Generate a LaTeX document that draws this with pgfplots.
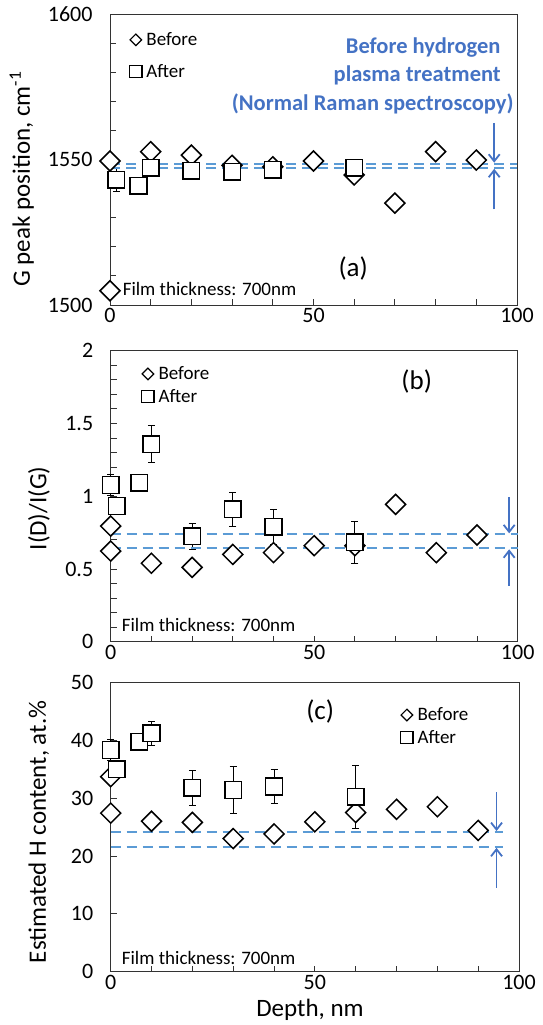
\documentclass[border=0pt]{standalone}
\usepackage{pgfplots}
\pgfplotsset{compat=1.18}
\usepackage{pgfplotstable}
\usepackage{fontspec}
\setmainfont{Carlito}
\usetikzlibrary{arrows.meta}
\definecolor{mblue}{HTML}{4472C4}
\definecolor{dblue}{HTML}{5B9BD5}
\newcommand{\tickfont}{\fontsize{22}{26}\selectfont}
\newcommand{\labfont}{\fontsize{25}{30}\selectfont}
\newcommand{\legfont}{\fontsize{19}{23}\selectfont}
\newcommand{\smfont}{\fontsize{19}{23}\selectfont}
\newcommand{\panfont}{\fontsize{27}{32}\selectfont}
\newcommand{\bluefont}{\fontsize{22.5}{27}\selectfont\bfseries}

% ---------- data ----------
\pgfplotstableread{
x y
0 1549.5
0 1504.9
10 1552.7
20 1551.5
30 1548.0
40 1547.5
50 1549.5
60 1544.7
70 1535.0
80 1552.7
90 1549.8
}\befA
\pgfplotstableread{
x y e
1.5 1543.0 4.0
7 1541.0 0
10 1547.2 0
20 1546.2 0
30 1545.8 2.9
40 1546.5 2.9
60 1547.2 0
}\aftA
\pgfplotstableread{
x y
0 0.795
0 0.623
10 0.539
20 0.511
30 0.600
40 0.612
50 0.660
60 0.660
70 0.944
80 0.612
90 0.733
}\befB
\pgfplotstableread{
x y e
0 1.077 0.07
1.5 0.933 0
7 1.093 0
10 1.357 0.127
20 0.726 0.09
30 0.910 0.118
40 0.790 0.12
60 0.683 0.146
}\aftB
\pgfplotstableread{
x y
0 33.7
0 27.4
10 26.0
20 25.8
30 23.0
40 23.8
50 25.9
60 27.5
70 28.06
80 28.5
90 24.4
}\befC
\pgfplotstableread{
x y e
0 38.3 1.8
1.5 35.0 0
7 39.7 0
10 41.2 2.1
20 31.8 3.0
30 31.4 4.0
40 32.0 3.0
60 30.2 5.5
}\aftC

\pgfplotsset{
  mystyle/.style={
    scale only axis, clip=false,
    xmin=0, xmax=100, xtick={0,50,100}, minor x tick num=4,
    tick align=inside, tick pos=left,
    major tick length=6pt, minor tick length=6pt,
    axis line style={black!80, line width=0.9pt},
    tick style={black!80, line width=0.9pt},
    ticklabel style={font=\tickfont, text=black},
    /pgf/number format/assume math mode=true,
    /pgf/number format/1000 sep={},
    yticklabel style={xshift=-14pt},
    label style={font=\labfont},
    legend style={draw=none, fill=none, font=\legfont, anchor=north west, inner sep=0pt, column sep=3pt, nodes={inner sep=1.5pt}},
    legend cell align=left,
  },
  bef/.style={only marks, mark=square*, mark size=7.07pt,
    mark options={rotate=45, fill=white, draw=black, line width=1.5pt},
    legend image code/.code={\draw[##1, mark size=4.1pt, mark options={rotate=45, fill=white, draw=black, line width=1.2pt}] plot coordinates {(0pt,0pt)};}},
  err/.style={only marks, mark=none, forget plot,
    error bars/y dir=both, error bars/y explicit,
    error bars/error bar style={line width=0.9pt, black},
    error bars/error mark options={rotate=90, mark size=3.5pt, line width=0.9pt, black}},
  aft/.style={only marks, mark=square*, mark size=8.3pt,
    mark options={fill=white, draw=black, line width=1.5pt},
    legend image code/.code={\draw[##1, mark size=6.1pt, mark options={fill=white, draw=black, line width=1.2pt}] plot coordinates {(0pt,0pt)};}},
  dl/.style={dblue, line width=2pt, dash pattern=on 10pt off 6pt, forget plot},
  ar/.style={mblue, line width=1.8pt, -{Straight Barb[length=7pt, width=11pt]}, forget plot},
}

\begin{document}
\begin{tikzpicture}
\useasboundingbox (0,0) rectangle (543pt,-1025pt);

% ---------------- (a) ----------------
\begin{axis}[mystyle,
  at={(110pt,-14pt)}, anchor=north west,
  width=407pt, height=291pt,
  ymin=1500, ymax=1600, ytick={1500,1550,1600}, minor y tick num=4,
  ylabel={G peak position, cm\textsuperscript{-1}},
  ylabel style={at={(axis description cs:-0.217,0.433)}, anchor=center},
  legend style={at={(axis description cs:0.048,0.942)}, row sep=14pt},
]
\addplot[bef] table[x=x,y=y] {\befA};
\addlegendentry{Before}
\addplot[err] table[x=x,y=y,y error=e] {\aftA};
\addplot[aft] table[x=x,y=y] {\aftA};
\addlegendentry{After}
\addplot[dl] coordinates {(0,1548.5) (100,1548.5)};
\addplot[dl] coordinates {(0,1547.2) (100,1547.2)};
\addplot[ar] coordinates {(94.4,1562.6) (94.4,1548.9)};
\addplot[ar] coordinates {(94.4,1532.9) (94.4,1546.8)};
\node[anchor=base east, font=\bluefont, text=mblue, inner sep=0pt] at (axis cs:96.0,1586.3) {Before hydrogen};
\node[anchor=base east, font=\bluefont, text=mblue, inner sep=0pt] at (axis cs:96.05,1576.7) {plasma treatment};
\node[anchor=base east, font=\bluefont, text=mblue, inner sep=0pt] at (axis cs:99.2,1567.0) {(Normal Raman spectroscopy)};
\node[font=\panfont] at (axis cs:59.75,1512.7) {(a)};
\node[anchor=base west, font=\smfont, inner sep=0pt] at (axis cs:3.1,1503.4) {Film thickness: 700nm};
\end{axis}

% ---------------- (b) ----------------
\begin{axis}[mystyle,
  at={(110.7pt,-350.7pt)}, anchor=north west,
  width=407pt, height=291pt,
  ymin=0, ymax=2, ytick={0,0.5,1,1.5,2}, minor y tick num=4,
  ylabel={I(D)/I(G)},
  ylabel style={at={(axis description cs:-0.176,0.458)}, anchor=center},
  legend style={at={(axis description cs:0.076,0.951)}, row sep=5pt},
]
\addplot[bef] table[x=x,y=y] {\befB};
\addlegendentry{Before}
\addplot[err] table[x=x,y=y,y error=e] {\aftB};
\addplot[aft] table[x=x,y=y] {\aftB};
\addlegendentry{After}
\addplot[dl] coordinates {(0,0.738) (100,0.738)};
\addplot[dl] coordinates {(0,0.642) (100,0.642)};
\addplot[ar] coordinates {(97.9,0.992) (97.9,0.745)};
\addplot[ar] coordinates {(97.9,0.383) (97.9,0.635)};
\node[font=\panfont] at (axis cs:75.2,1.787) {(b)};
\node[anchor=base west, font=\smfont, inner sep=0pt] at (axis cs:2.7,0.069) {Film thickness: 700nm};
\end{axis}

% ---------------- (c) ----------------
\begin{axis}[mystyle,
  at={(110.7pt,-682.3pt)}, anchor=north west,
  width=408.3pt, height=289.4pt,
  ymin=0, ymax=50, ytick={0,10,20,30,40,50},
  ylabel={Estimated H content, at.\%},
  ylabel style={at={(axis description cs:-0.176,0.483)}, anchor=center},
  xlabel={Depth, nm},
  xlabel style={at={(axis description cs:0.488,-0.132)}, anchor=center},
  legend style={at={(axis description cs:0.710,0.918)}, row sep=5pt},
]
\addplot[bef] table[x=x,y=y] {\befC};
\addlegendentry{Before}
\addplot[err] table[x=x,y=y,y error=e] {\aftC};
\addplot[aft] table[x=x,y=y] {\aftC};
\addlegendentry{After}
\addplot[dl] coordinates {(0,24.08) (96,24.08)};
\addplot[dl] coordinates {(0,21.6) (96,21.6)};
\addplot[ar] coordinates {(94.5,31) (94.5,24.3)};
\addplot[ar] coordinates {(94.5,14.5) (94.5,21.4)};
\node[font=\panfont] at (axis cs:51.3,44.9) {(c)};
\node[anchor=base west, font=\smfont, inner sep=0pt] at (axis cs:2.7,1.16) {Film thickness: 700nm};
\end{axis}
\end{tikzpicture}
\end{document}
